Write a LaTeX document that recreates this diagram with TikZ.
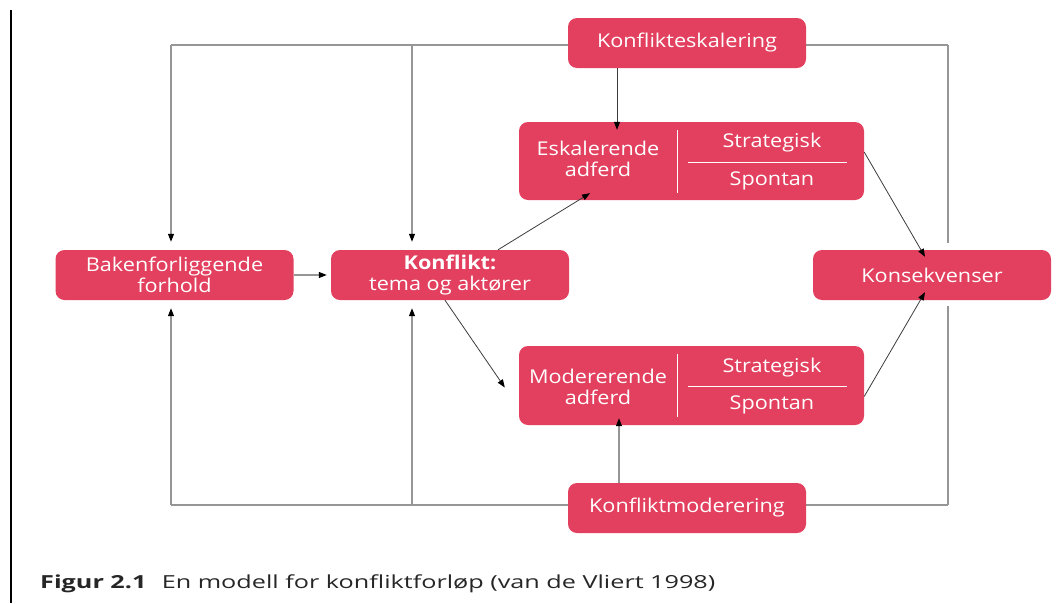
\documentclass[tikz,border=0pt]{standalone}
\usepackage{fontspec}
\setmainfont{Open Sans}
\newfontfamily\boxfont[FakeStretch=1.14]{Open Sans}
\newfontfamily\capfont[FakeStretch=1.4]{Open Sans}
\usetikzlibrary{arrows.meta,backgrounds}
\definecolor{boxred}{RGB}{226,64,94}
\definecolor{framegray}{RGB}{150,150,150}
\definecolor{arrowgray}{RGB}{60,60,60}
\tikzset{
  box/.style={fill=boxred, rounded corners=9pt, text=white, inner sep=0pt, align=center, font=\boxfont\fontsize{19}{21}\selectfont},
  smallbox/.style={box, minimum width=238pt, minimum height=50pt},
  bigbox/.style={box, minimum width=345pt, minimum height=78pt},
  frame/.style={draw=framegray, line width=1.1pt},
  tip/.style={-{Triangle[length=8pt,width=6pt,black]}},
  diag/.style={draw=arrowgray, line width=0.8pt, tip},
  divider/.style={draw=white, line width=0.8pt},
  boxtext/.style={text=white, font=\boxfont\fontsize{19}{21}\selectfont, align=center, inner sep=0pt},
}
\begin{document}
\begin{tikzpicture}[x=1pt,y=-1pt]
\useasboundingbox (0,0) rectangle (1058,603);
% left black rule
\draw[line width=2pt] (11,10) -- (11,603);
% boxes
\node[smallbox] (escTop) at (687,43) {Konflikteskalering};
\node[bigbox] (esk) at (691.5,161) {};
\node[smallbox] (bak) at (174.5,275) {Bakenforliggende\\forhold};
\node[smallbox] (konf) at (450,275) {\textbf{Konflikt:}\\tema og aktører};
\node[smallbox] (kons) at (932,275) {Konsekvenser};
\node[bigbox, minimum height=79pt] (mod) at (691.5,385.5) {};
\node[smallbox] (modBot) at (687,508) {Konfliktmoderering};
% inner texts of escalating box
\node[boxtext] (eskL) at (598,159) {Eskalerende\\adferd};
\node[boxtext] (eskS) at (772,143) {Strategisk};
\node[boxtext] (eskP) at (772,181) {Spontan};
\draw[divider] (677,130) -- (677,193);
\draw[divider] (688,162) -- (847,162);
% inner texts of moderating box
\node[boxtext] (modL) at (598,387) {Modererende\\adferd};
\node[boxtext] (modS) at (772,368) {Strategisk};
\node[boxtext] (modP) at (772,405) {Spontan};
\draw[divider] (677,354) -- (677,417);
\draw[divider] (688,386) -- (847,386);
% frame coordinates
\coordinate (TL) at (171,45);
\coordinate (TM) at (412,45);
\coordinate (TR) at (948,45);
\coordinate (BL) at (171,505);
\coordinate (BM) at (412,505);
\coordinate (BR) at (948,505);
\begin{scope}[on background layer]
\draw[frame] (TL) -- (TR);
\draw[frame] (BL) -- (BR);
\end{scope}
\draw[frame, tip, shorten >=8pt] (TL) -- (TL |- bak.north);
\draw[frame, tip, shorten >=8pt] (TM) -- (TM |- konf.north);
\draw[frame, shorten >=7pt] (TR) -- (TR |- kons.north);
\draw[frame, tip, shorten >=8pt] (BL) -- (BL |- bak.south);
\draw[frame, tip, shorten >=8pt] (BM) -- (BM |- konf.south);
\draw[frame, shorten >=6pt] (BR) -- (BR |- kons.south);
% vertical arrows from the regulating boxes
\coordinate (e1) at (617,68);
\draw[diag] (e1) -- ([yshift=-8pt]e1 |- esk.north);
\coordinate (m1) at (619,483);
\draw[frame, tip] (m1) -- ([yshift=7pt]m1 |- mod.south);
% flow arrows
\draw[frame, tip, shorten >=4pt] (bak.east) -- (konf.west);
\draw[diag] ([xshift=48pt]konf.north) -- ([xshift=-101.5pt,yshift=7pt]esk.south);
\draw[diag] ([xshift=-5pt]konf.south) -- ([xshift=-14pt,yshift=-2pt]mod.west);
\draw[diag] ([yshift=9pt]esk.east) -- ([xshift=-7pt,yshift=-7pt]kons.north);
\draw[diag] ([yshift=-11pt]mod.east) -- ([xshift=-7pt,yshift=8pt]kons.south);
% caption
\node[anchor=base west, inner sep=0pt, text=black!85, font=\capfont\fontsize{18}{22}\selectfont] (cap) at (40,588) {\textbf{Figur 2.1}\hspace{0.85em}En modell for konfliktforløp (van de Vliert 1998)};
\end{tikzpicture}
\end{document}
